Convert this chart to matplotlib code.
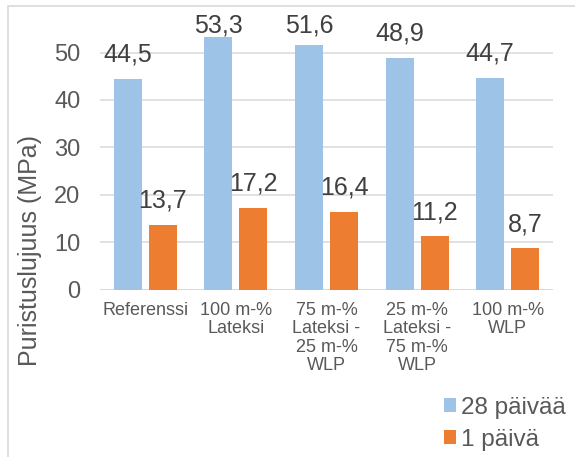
import matplotlib
matplotlib.use("Agg")
import matplotlib.pyplot as plt
from matplotlib.patches import Rectangle
import numpy as np

categories = ["Referenssi", "100 m-%\nLateksi", "75 m-%\nLateksi -\n25 m-%\nWLP",
              "25 m-%\nLateksi -\n75 m-%\nWLP", "100 m-%\nWLP"]
series_names = ["28 päivää", "1 päivä"]
values_28d = [44.5, 53.3, 51.6, 48.9, 44.7]
values_1d = [13.7, 17.2, 16.4, 11.2, 8.7]
y_ticks = [0, 10, 20, 30, 40, 50]
y_label = "Puristuslujuus (MPa)"

BLUE = "#9DC3E6"
ORANGE = "#ED7D31"
TEXT = "#595959"
GRID = "#D9D9D9"

plt.rcParams["font.family"] = ["Liberation Sans", "DejaVu Sans"]

W, H = 575, 457
fig = plt.figure(figsize=(W / 100, H / 100), dpi=100)
fig.patch.set_facecolor("white")

# plot area in pixel terms
left_px, right_px, bottom_px, top_px = 100, 553, 289.5, 5.1
ax = fig.add_axes([left_px / W, (H - bottom_px) / H,
                   (right_px - left_px) / W, (bottom_px - top_px) / H])
ymax = 60
ax.set_ylim(0, ymax)
ax.set_xlim(-0.5, len(categories) - 0.5)

x = np.arange(len(categories))
bw = 0.31
off = 0.193
ax.bar(x - off, values_28d, bw, color=BLUE, zorder=3, label=series_names[0])
ax.bar(x + off, values_1d, bw, color=ORANGE, zorder=3, label=series_names[1])

# value labels: fixed gap above the bar, kept below the chart's top edge
px_per_unit = (bottom_px - top_px) / ymax
gap = 17 / px_per_unit
cap = (bottom_px - 33) / px_per_unit
for xs, vals in ((x - off, values_28d), (x + off, values_1d)):
    for xi, v in zip(xs, vals):
        ax.text(xi, min(v + gap, cap), f"{v:.1f}".replace(".", ","),
                ha="center", va="baseline", fontsize=18, color="#404040",
                zorder=4, clip_on=False)

ax.set_yticks(y_ticks)
ax.set_yticklabels([str(t) for t in y_ticks], fontsize=17, color=TEXT)
ax.set_xticks(x)
ax.set_xticklabels(categories, fontsize=13, color=TEXT, linespacing=1.1)
ax.tick_params(axis="y", length=0, pad=14)
ax.tick_params(axis="x", length=0, pad=9)
ax.grid(axis="y", color=GRID, linewidth=1.1, zorder=0)
for s in ax.spines.values():
    s.set_visible(False)
ax.axhline(0, color=GRID, linewidth=1.3, zorder=2)

fig.text(30 / W, 1 - 251 / H, y_label, rotation=90, ha="center", va="center",
         fontsize=18, color=TEXT)

# chart border (left and top edges visible)
fig.patches.append(Rectangle((8 / W, -0.1), 2, 1.1 - 6 / H,
                             transform=fig.transFigure, fill=False,
                             edgecolor=GRID, linewidth=1.2))

handles, labels = ax.get_legend_handles_labels()
fig.legend(handles, labels, loc="upper left",
           bbox_to_anchor=(444 / W, 1 - 397 / H), frameon=False,
           fontsize=17.5, labelcolor=TEXT, handlelength=0.5, handleheight=0.5,
           handletextpad=0.2, labelspacing=0.4, borderpad=0, borderaxespad=0)

fig.savefig("out.png", dpi=100, facecolor="white")
